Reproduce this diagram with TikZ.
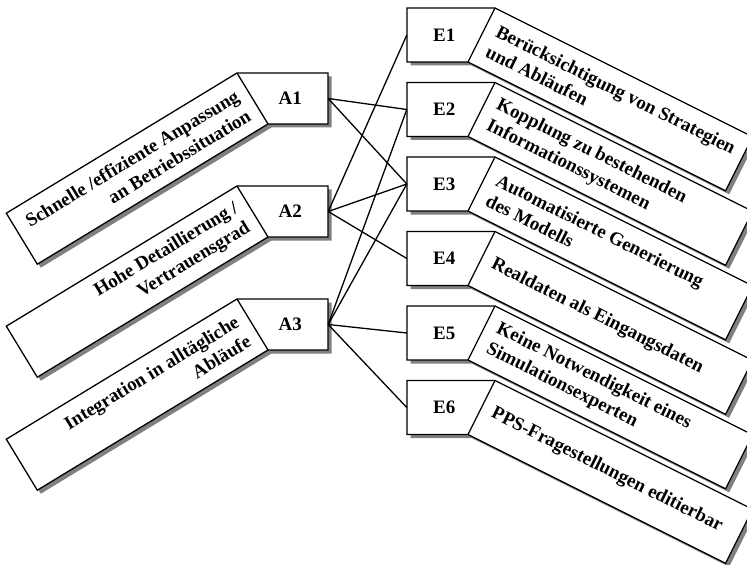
\documentclass[tikz,border=0pt]{standalone}
\usepackage{fontspec}
\setmainfont{Liberation Serif}
\usetikzlibrary{calc}
\begin{document}
\begin{tikzpicture}[x=1bp,y=1bp,
  every node/.style={font=\fontsize{19bp}{22.8bp}\selectfont\bfseries},
  tag/.style={inner sep=0pt, minimum width=75.5bp, minimum height=51bp},
  etag/.style={inner sep=0pt, minimum width=74.5bp, minimum height=54bp},
  frame/.style={draw=black, fill=white, line width=1.3bp, line join=miter},
  shade/.style={fill=black!50, draw=none, transform canvas={shift={(3.5bp,-3.5bp)}}},
  link/.style={draw=black, line width=1.3bp},
  atext/.style={anchor=east, rotate=31.29, align=right, inner xsep=11bp, inner ysep=0pt},
  etext/.style={anchor=west, rotate=-26.565, align=left, inner xsep=12bp, inner ysep=0pt},
]
\useasboundingbox (0,0) rectangle (747,-565);
\clip (0,0) rectangle (747,-565);

% requirement boxes on the left, each with a tilted text panel
\foreach \n/\y/\t in {
  A1/98.5/{Schnelle /effiziente Anpassung\\an Betriebssituation},
  A2/211.5/{Hohe Detaillierung /\\Vertrauensgrad},
  A3/324.5/{Integration in alltägliche\\Abläufe}}{
  \coordinate (p) at (237,-\y+25.5);
  \coordinate (q) at (268,-\y-25.5);
  \coordinate (r) at (328,-\y+25.5);
  \coordinate (s) at (328,-\y-25.5);
  \coordinate (pp) at ($(p)+(-230.7,-140.2)$);
  \coordinate (qq) at ($(q)+(-230.7,-140.2)$);
  \fill[shade] (p) -- (r) -- (s) -- (q) -- (qq) -- (pp) -- cycle;
  \draw[frame] (p) -- (r) -- (s) -- (q) -- (qq) -- (pp) -- cycle;
  \draw[frame] (p) -- (q);
  \node[atext] at ($(p)!0.5!(q)$) {\t};
  \node[tag] (\n) at (290.25,-\y) {\n};
}

% property boxes on the right, each with a tilted text panel
\foreach \n/\y/\t in {
  E1/35/{Berücksichtigung von Strategien\\und Abläufen},
  E2/109.5/{Kopplung zu bestehenden\\Informationssystemen},
  E3/184/{Automatisierte Generierung\\des Modells},
  E4/258.5/{Realdaten als Eingangsdaten},
  E5/333/{Keine Notwendigkeit eines\\Simulationsexperten},
  E6/407.5/{PPS-Fragestellungen editierbar}}{
  \coordinate (l) at (407,-\y+27);
  \coordinate (m) at (407,-\y-27);
  \coordinate (p) at (495,-\y+27);
  \coordinate (q) at (468,-\y-27);
  \coordinate (pp) at ($(p)+(257.6,-128.8)$);
  \coordinate (qq) at ($(q)+(257.6,-128.8)$);
  \fill[shade] (l) -- (p) -- (pp) -- (qq) -- (q) -- (m) -- cycle;
  \draw[frame] (l) -- (p) -- (pp) -- (qq) -- (q) -- (m) -- cycle;
  \draw[frame] (p) -- (q);
  \node[etext] at ($(p)!0.5!(q)$) {\t};
  \node[etag] (\n) at (444.25,-\y) {\n};
}

% connections between requirements and properties
\draw[link] (A1.east) -- (E2.west);
\draw[link] (A1.east) -- (E3.west);
\draw[link] (A2.east) -- (E1.west);
\draw[link] (A2.east) -- (E3.west);
\draw[link] (A2.east) -- (E4.west);
\draw[link] (A3.east) -- (E2.west);
\draw[link] (A3.east) -- (E3.west);
\draw[link] (A3.east) -- (E5.west);
\draw[link] (A3.east) -- (E6.west);
\end{tikzpicture}
\end{document}
